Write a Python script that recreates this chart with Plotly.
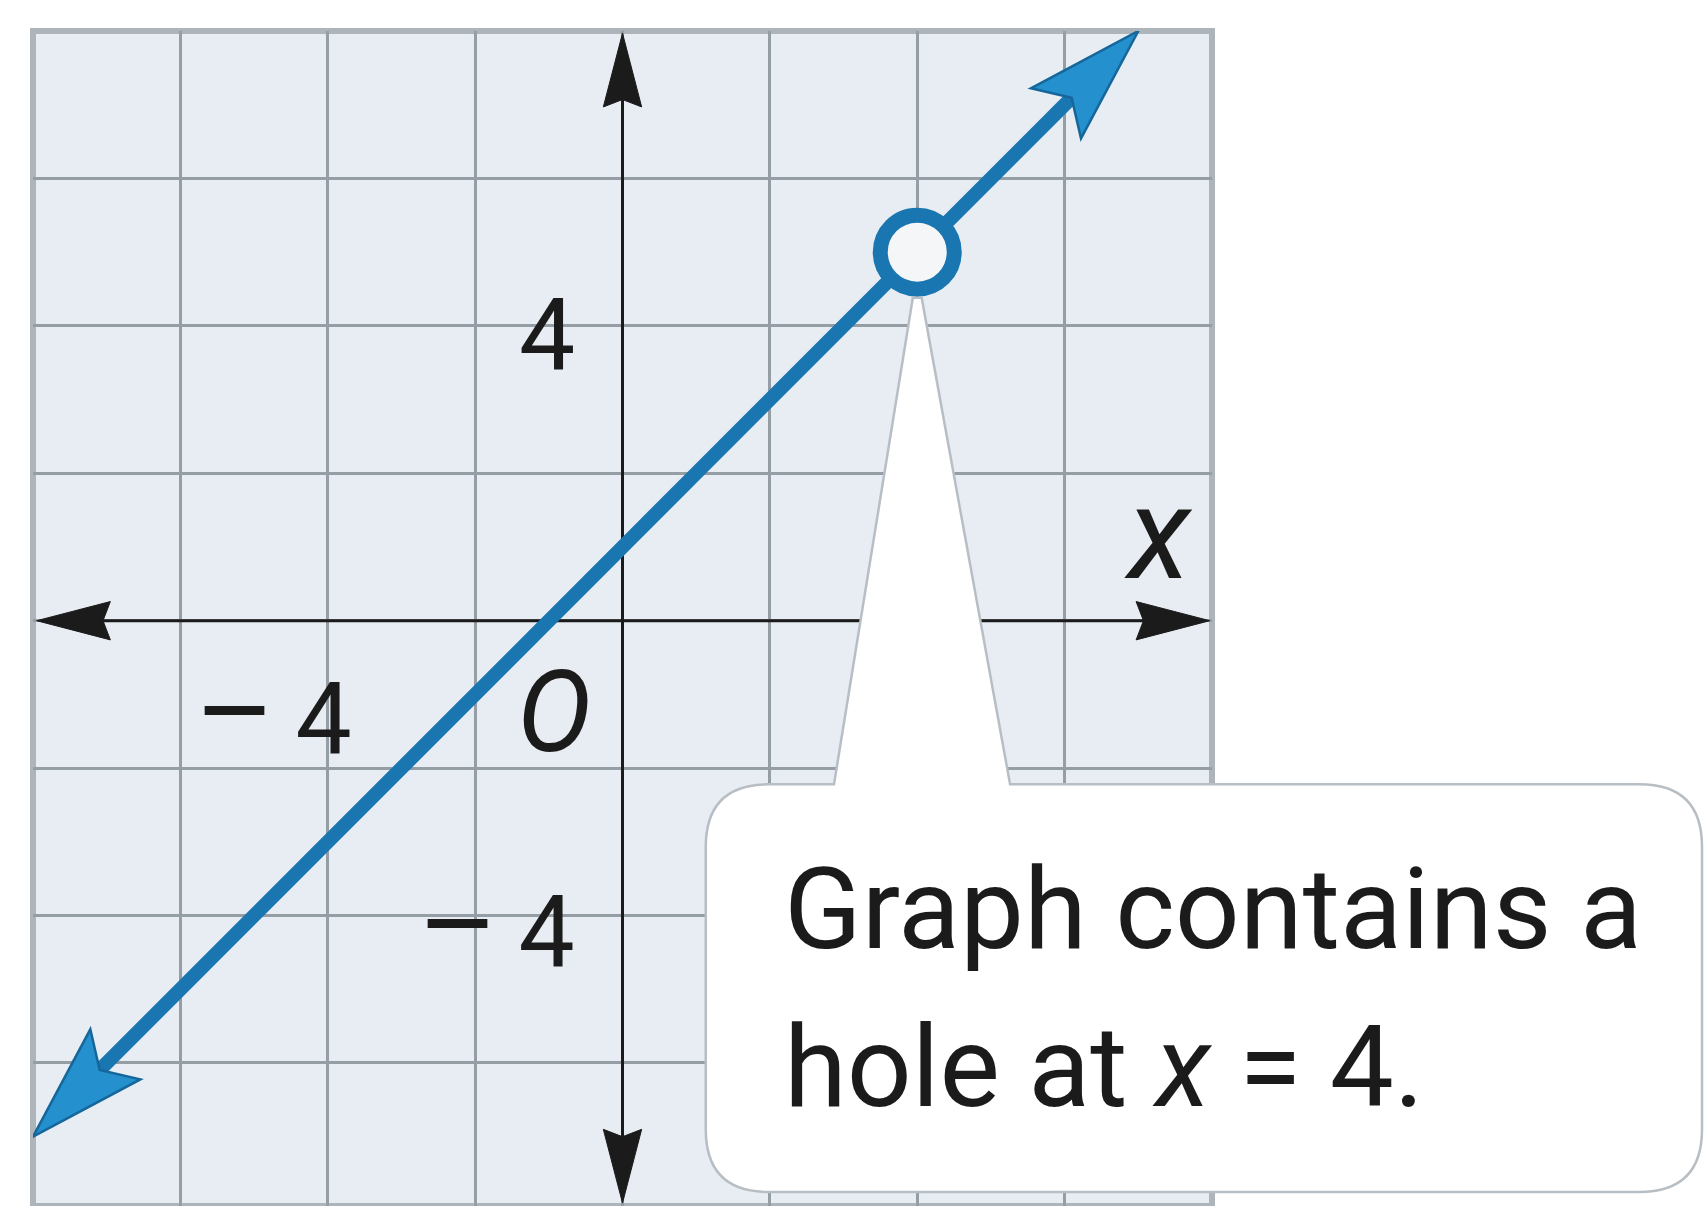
import math
import plotly.graph_objects as go

# ---- data ---------------------------------------------------------------
# graph of the function: the line y = x + 1, drawn between its arrow tips,
# with an open circle where the function is undefined
line_x = [-8, 4, 7]
line_y = [-7, 5, 8]
hole_x = [4]
hole_y = [5]

# grid / tick positions and the labels written next to the axes
grid_ticks = [-8, -6, -4, -2, 0, 2, 4, 6, 8]
DASH = '<span style="font-size:122px">–</span>\u2009'
x_tick_vals = [-4]
x_tick_text = [DASH + "4"]
y_tick_vals = [4, -4]
y_tick_text = ["4", DASH + "4"]
origin_text = "<i>O</i>"
x_axis_title = "<i>x</i>"

callout_lines = ["Graph contains a", "hole at <i>x</i> = 4."]

# ---- geometry / style ---------------------------------------------------
X_RANGE = [-8, 8]
Y_RANGE = [-7.94, 8]
AXIS_X_EXTENT = [-7.95, 7.97]
AXIS_Y_EXTENT = [-7.9, 7.97]

BLUE = "#1a76b0"
BLUE_HEAD = "#2590ce"
BLUE_EDGE = "#15679b"
INK = "#1b1b1b"
GRID = "#959da5"
PLOT_BG = "#e8edf3"
FONT = "Roboto"


def fx(x):
    return (x - X_RANGE[0]) / (X_RANGE[1] - X_RANGE[0])


def fy(y):
    return (y - Y_RANGE[0]) / (Y_RANGE[1] - Y_RANGE[0])


def arrow_head(tip, toward, length, half_w, notch):
    """Filled barbed arrow head pointing at `tip`, coming from `toward`."""
    dx, dy = tip[0] - toward[0], tip[1] - toward[1]
    n = math.hypot(dx, dy)
    ux, uy = dx / n, dy / n
    px, py = -uy, ux
    bx, by = tip[0] - ux * length, tip[1] - uy * length
    nx, ny = tip[0] - ux * notch, tip[1] - uy * notch
    pts = [tip, (bx + px * half_w, by + py * half_w), (nx, ny),
           (bx - px * half_w, by - py * half_w)]
    return "M " + " L ".join(f"{a:.4f},{b:.4f}" for a, b in pts) + " Z"


def trim(p, q, d):
    """Point at distance d from p towards q."""
    dx, dy = q[0] - p[0], q[1] - p[1]
    n = math.hypot(dx, dy)
    return (p[0] + dx / n * d, p[1] + dy / n * d)


fig = go.Figure()

# main line, shortened so it ends inside the arrow heads
start = (line_x[0], line_y[0])
end = (line_x[-1], line_y[-1])
s2 = trim(start, end, 1.15)
e2 = trim(end, start, 1.15)
seg_x = [s2[0]] + line_x[1:-1] + [e2[0]]
seg_y = [s2[1]] + line_y[1:-1] + [e2[1]]
fig.add_trace(go.Scatter(x=seg_x, y=seg_y, mode="lines",
                         line=dict(color=BLUE, width=14),
                         hoverinfo="skip", showlegend=False))

# open circle at the hole
fig.add_trace(go.Scatter(
    x=hole_x, y=hole_y, mode="markers",
    marker=dict(symbol="circle", size=74, color="#f4f6f8",
                line=dict(color=BLUE, width=15)),
    hoverinfo="skip", showlegend=False,
))

shapes = []

# coordinate axes with arrow heads
shapes.append(dict(type="line", layer="between", xref="x", yref="y",
                   x0=AXIS_X_EXTENT[0] + 0.5, x1=AXIS_X_EXTENT[1] - 0.5, y0=0, y1=0,
                   line=dict(color=INK, width=3)))
shapes.append(dict(type="line", layer="between", xref="x", yref="y",
                   x0=0, x1=0, y0=AXIS_Y_EXTENT[0] + 0.5, y1=AXIS_Y_EXTENT[1] - 0.5,
                   line=dict(color=INK, width=3)))
for tip, frm in [((AXIS_X_EXTENT[0], 0), (0, 0)), ((AXIS_X_EXTENT[1], 0), (0, 0)),
                 ((0, AXIS_Y_EXTENT[0]), (0, 0)), ((0, AXIS_Y_EXTENT[1]), (0, 0))]:
    shapes.append(dict(type="path", layer="between", xref="x", yref="y",
                       path=arrow_head(tip, frm, 1.0, 0.26, 0.9),
                       fillcolor=INK, line=dict(color=INK, width=1)))

# blue arrow heads at both ends of the line
for tip, frm in [(end, start), (start, end)]:
    shapes.append(dict(type="path", layer="above", xref="x", yref="y",
                       path=arrow_head(tip, frm, 1.58, 0.48, 1.28),
                       fillcolor=BLUE_HEAD, line=dict(color=BLUE_EDGE, width=2.5)))

# plot frame
shapes.append(dict(type="rect", layer="between", xref="paper", yref="paper",
                   x0=0, x1=1, y0=0, y1=1, line=dict(color="#adb5bb", width=6)))

# speech-bubble callout pointing at the hole
L, R, T, B, r = 1.13, 14.65, -2.22, -7.75, 0.85
tip_y = hole_y[0] - 0.62
tail = [(2.87, T), (hole_x[0] - 0.06, tip_y), (hole_x[0] + 0.06, tip_y), (5.26, T)]


def P(x, y):
    return f"{fx(x):.5f},{fy(y):.5f}"


bubble = (
    f"M {P(L, T - r)} Q {P(L, T)} {P(L + r, T)} "
    + " ".join(f"L {P(a, b)}" for a, b in tail)
    + f" L {P(R - r, T)} Q {P(R, T)} {P(R, T - r)} "
    f"L {P(R, B + r)} Q {P(R, B)} {P(R - r, B)} "
    f"L {P(L + r, B)} Q {P(L, B)} {P(L, B + r)} Z"
)
shapes.append(dict(type="path", layer="above", xref="paper", yref="paper",
                   path=bubble, fillcolor="white",
                   line=dict(color="#b7bec4", width=2.5)))

annotations = []
for v, t in zip(x_tick_vals, x_tick_text):
    annotations.append(dict(x=v + 0.36, y=-1.25, text=t, xanchor="right",
                            yanchor="middle", showarrow=False,
                            font=dict(family=FONT, size=100, color=INK)))
annotations.append(dict(x=-0.92, y=-1.25, text=origin_text, xanchor="center",
                        yanchor="middle", showarrow=False,
                        font=dict(family=FONT, size=112, color=INK)))
for v, t in zip(y_tick_vals, y_tick_text):
    annotations.append(dict(x=-0.62, y=v - 0.13, text=t, xanchor="right",
                            yanchor="middle", showarrow=False,
                            font=dict(family=FONT, size=100, color=INK)))
annotations.append(dict(x=7.28, y=1.18, text=x_axis_title, xanchor="center",
                        yanchor="middle", showarrow=False,
                        font=dict(family=FONT, size=130, color=INK)))
for i, line in enumerate(callout_lines):
    annotations.append(dict(x=2.16, y=-3.91 - 2.15 * i, text=line,
                            xanchor="left", yanchor="middle", showarrow=False,
                            font=dict(family=FONT, size=114, color=INK)))

axis_common = dict(tickvals=grid_ticks, showgrid=True, gridcolor=GRID,
                   gridwidth=3, zeroline=False, showticklabels=False,
                   ticks="", showline=False, fixedrange=True)

fig.update_layout(
    width=1707, height=1206,
    margin=dict(l=33, r=495, t=31, b=0, pad=0),
    paper_bgcolor="white", plot_bgcolor=PLOT_BG,
    xaxis=dict(range=X_RANGE, **axis_common),
    yaxis=dict(range=Y_RANGE, **axis_common),
    shapes=shapes, annotations=annotations,
    showlegend=False,
)

fig.write_html("out.html")
